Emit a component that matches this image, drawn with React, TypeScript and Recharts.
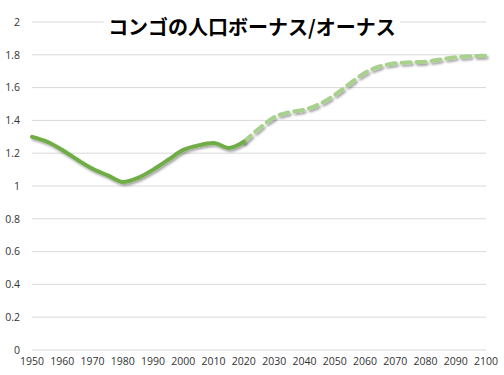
import React from "react";
import { LineChart, Line, XAxis, YAxis, CartesianGrid } from "recharts";

const title = "コンゴの人口ボーナス/オーナス";

const years = [
  1950, 1955, 1960, 1965, 1970, 1975, 1980, 1985, 1990, 1995, 2000, 2005, 2010, 2015, 2020,
  2025, 2030, 2035, 2040, 2045, 2050, 2055, 2060, 2065, 2070, 2075, 2080, 2085, 2090, 2095, 2100,
];

const actual = [
  1.3, 1.27, 1.22, 1.16, 1.105, 1.065, 1.025, 1.05, 1.1, 1.16, 1.22, 1.248, 1.262, 1.232, 1.27,
];

const projected = [
  1.27, 1.35, 1.42, 1.45, 1.465, 1.5, 1.555, 1.625, 1.69, 1.73, 1.748, 1.754, 1.758, 1.772, 1.785, 1.792, 1.795,
];

const xTicks = [1950, 1960, 1970, 1980, 1990, 2000, 2010, 2020, 2030, 2040, 2050, 2060, 2070, 2080, 2090, 2100];
const yTicks = [0, 0.2, 0.4, 0.6, 0.8, 1, 1.2, 1.4, 1.6, 1.8, 2];

const projStart = years.length - projected.length;

const data = years.map((y, i) => ({
  year: y,
  actual: i < actual.length ? actual[i] : null,
  projected: i >= projStart ? projected[i - projStart] : null,
}));

const tickStyle = { fontSize: 10.5, fill: "#333333", fontFamily: "'Open Sans', 'Noto Sans', sans-serif" };

export default function App() {
  return (
    <div style={{ position: "absolute", left: 0, top: 0, width: 504, height: 375, background: "#fff" }}>
      <LineChart width={504} height={375} data={data} margin={{ top: 22, right: 18, bottom: 0, left: 0 }}>
        <defs>
          <filter id="shadow" x="-10%" y="-10%" width="120%" height="130%">
            <feDropShadow dx="1.5" dy="2" stdDeviation="1.2" floodColor="#000" floodOpacity="0.35" />
          </filter>
        </defs>
        <CartesianGrid vertical={false} stroke="#D9D9D9" />
        <XAxis
          dataKey="year"
          type="number"
          domain={[1950, 2100]}
          ticks={xTicks}
          axisLine={false}
          tickLine={false}
          height={25}
          tickMargin={2}
          tick={tickStyle}
          interval={0}
        />
        <YAxis
          domain={[0, 2]}
          ticks={yTicks}
          axisLine={false}
          tickLine={false}
          width={32}
          tickMargin={6}
          tick={tickStyle}
        />
        <Line
          dataKey="projected"
          type="monotone"
          stroke="#A9D18E"
          strokeWidth={4}
          strokeDasharray="9 6"
          strokeLinecap="round"
          dot={false}
          isAnimationActive={false}
          filter="url(#shadow)"
        />
        <Line
          dataKey="actual"
          type="monotone"
          stroke="#70AD47"
          strokeWidth={4}
          strokeLinecap="round"
          dot={false}
          isAnimationActive={false}
          filter="url(#shadow)"
        />
      </LineChart>
      <div
        style={{
          position: "absolute",
          left: 0,
          width: 504,
          top: 14,
          textAlign: "center",
          pointerEvents: "none",
        }}
      >
        <span
          style={{
            background: "#fff",
            padding: "0 4px",
            fontFamily: "'Noto Sans CJK JP', sans-serif",
            fontWeight: 700,
            fontSize: 20,
            color: "#000",
            lineHeight: "26px",
          }}
        >
          {title}
        </span>
      </div>
    </div>
  );
}
